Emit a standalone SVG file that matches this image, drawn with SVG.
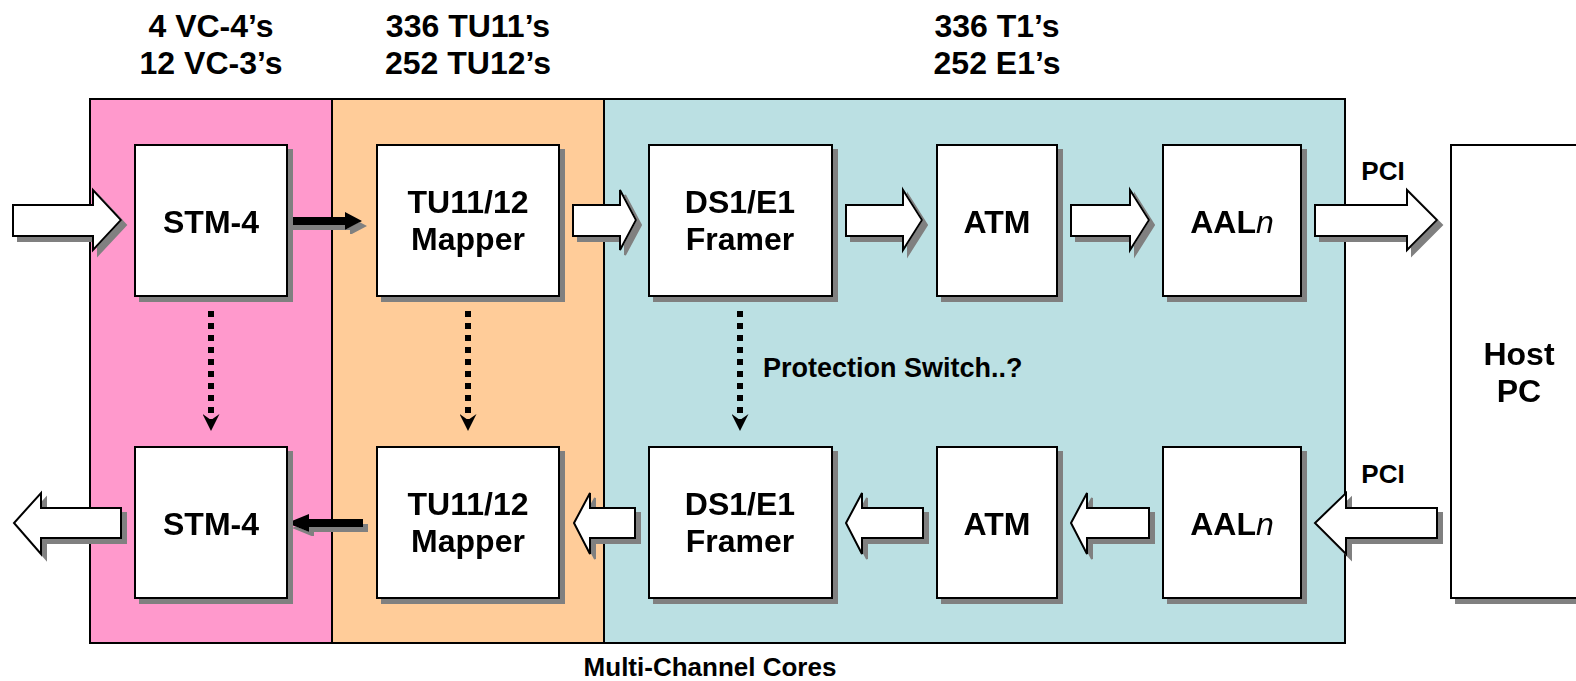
<svg xmlns="http://www.w3.org/2000/svg" width="1576" height="681" viewBox="0 0 1576 681">
<style>
text{font-family:"Liberation Sans",Arial,sans-serif;font-weight:bold;fill:#000}
.lbl{font-size:32px;text-anchor:middle}
.sm{font-size:26px}
.region{stroke:#000;stroke-width:2}
.box{fill:#fff;stroke:#000;stroke-width:2}
.barrow{fill:#fff;stroke:#000;stroke-width:2;stroke-linejoin:miter}
.sh{filter:url(#shadow)}
.dot{stroke:#000;stroke-width:6;stroke-dasharray:6 6;fill:none}
.thick{fill:#000}
</style>
<defs>
<filter id="shadow" x="-10%" y="-10%" width="130%" height="130%">
<feFlood flood-color="#808080" result="c"/>
<feComposite in="c" in2="SourceAlpha" operator="in" result="s"/>
<feOffset in="s" dx="5" dy="5" result="o"/>
<feMerge><feMergeNode in="o"/><feMergeNode in="SourceGraphic"/></feMerge>
</filter>
<marker id="stealth" viewBox="0 0 17 17" refX="17" refY="8.5" markerWidth="17" markerHeight="17" markerUnits="userSpaceOnUse" orient="auto">
<path d="M17,8.5 L0,0 L6,8.5 L0,17 Z" fill="#000"/>
</marker>
</defs>

<g id="regions">
<rect id="stm-region" class="region" x="90" y="99" width="242" height="544" fill="#FF99CC"/>
<rect id="tu-region" class="region" x="332" y="99" width="272" height="544" fill="#FFCC99"/>
<rect id="core-region" class="region" x="604" y="99" width="741" height="544" fill="#BBE0E3"/>
</g>

<g id="top-labels">
<text class="lbl" x="211" y="37">4 VC-4’s</text>
<text class="lbl" x="211" y="74">12 VC-3’s</text>
<text class="lbl" x="468" y="37">336 TU11’s</text>
<text class="lbl" x="468" y="74">252 TU12’s</text>
<text class="lbl" x="997" y="37">336 T1’s</text>
<text class="lbl" x="997" y="74">252 E1’s</text>
</g>

<g id="connectors">
<path class="barrow sh" d="M13,205 H93 V190 L121,220 L93,250 V236 H13 Z"/>
<path class="thick sh" d="M287,217 H345 V212 L362,221 L345,230 V225 H287 Z"/>
<path class="barrow sh" d="M573,205 H620 V190 L636,220 L620,250 V236 H573 Z"/>
<path class="barrow sh" d="M846,205 H903 V190 L922,220 L903,250 V236 H846 Z"/>
<path class="barrow sh" d="M1071,205 H1130 V190 L1149,220 L1130,250 V236 H1071 Z"/>
<path class="barrow sh" d="M1315,205 H1407 V190 L1437,220 L1407,250 V236 H1315 Z"/>

<path class="barrow sh" d="M121,508 H41 V493 L14,523 L41,554 V538 H121 Z"/>
<path class="thick sh" d="M363,519 H309 V514 L287,523 L309,532 V527 H363 Z"/>
<path class="barrow sh" d="M635,508 H590 V493 L574,523 L590,554 V538 H635 Z"/>
<path class="barrow sh" d="M923,508 H862 V493 L846,523 L862,554 V538 H923 Z"/>
<path class="barrow sh" d="M1149,508 H1087 V493 L1071,523 L1087,554 V538 H1149 Z"/>
<path class="barrow sh" d="M1437,508 H1346 V493 L1315,523 L1346,554 V538 H1437 Z"/>

<path class="dot" d="M211,311 V431" marker-end="url(#stealth)"/>
<path class="dot" d="M468,311 V431" marker-end="url(#stealth)"/>
<path class="dot" d="M740,311 V431" marker-end="url(#stealth)"/>

<text class="sm" x="1383" y="180" text-anchor="middle">PCI</text>
<text class="sm" x="1383" y="483" text-anchor="middle">PCI</text>
<text class="sm" x="763" y="377" style="font-size:27px">Protection Switch..?</text>
</g>

<g id="stm4-top" class="sh"><rect class="box" x="135" y="145" width="152" height="151"/><text class="lbl" x="211" y="233">STM-4</text></g>
<g id="mapper-top" class="sh"><rect class="box" x="377" y="145" width="182" height="151"/><text class="lbl" x="468" y="213">TU11/12</text><text class="lbl" x="468" y="250">Mapper</text></g>
<g id="framer-top" class="sh"><rect class="box" x="649" y="145" width="183" height="151"/><text class="lbl" x="740" y="213">DS1/E1</text><text class="lbl" x="740" y="250">Framer</text></g>
<g id="atm-top" class="sh"><rect class="box" x="937" y="145" width="120" height="151"/><text class="lbl" x="997" y="233">ATM</text></g>
<g id="aal-top" class="sh"><rect class="box" x="1163" y="145" width="138" height="151"/><text class="lbl" x="1232" y="233">AAL<tspan font-style="italic" font-weight="normal">n</tspan></text></g>

<g id="stm4-bottom" class="sh"><rect class="box" x="135" y="447" width="152" height="151"/><text class="lbl" x="211" y="535">STM-4</text></g>
<g id="mapper-bottom" class="sh"><rect class="box" x="377" y="447" width="182" height="151"/><text class="lbl" x="468" y="515">TU11/12</text><text class="lbl" x="468" y="552">Mapper</text></g>
<g id="framer-bottom" class="sh"><rect class="box" x="649" y="447" width="183" height="151"/><text class="lbl" x="740" y="515">DS1/E1</text><text class="lbl" x="740" y="552">Framer</text></g>
<g id="atm-bottom" class="sh"><rect class="box" x="937" y="447" width="120" height="151"/><text class="lbl" x="997" y="535">ATM</text></g>
<g id="aal-bottom" class="sh"><rect class="box" x="1163" y="447" width="138" height="151"/><text class="lbl" x="1232" y="535">AAL<tspan font-style="italic" font-weight="normal">n</tspan></text></g>

<g id="host-pc" class="sh"><rect class="box" x="1451" y="145" width="140" height="453"/><text class="lbl" x="1519" y="365">Host</text><text class="lbl" x="1519" y="402">PC</text></g>

<text id="caption" class="sm" x="710" y="676" text-anchor="middle">Multi-Channel Cores</text>
</svg>
